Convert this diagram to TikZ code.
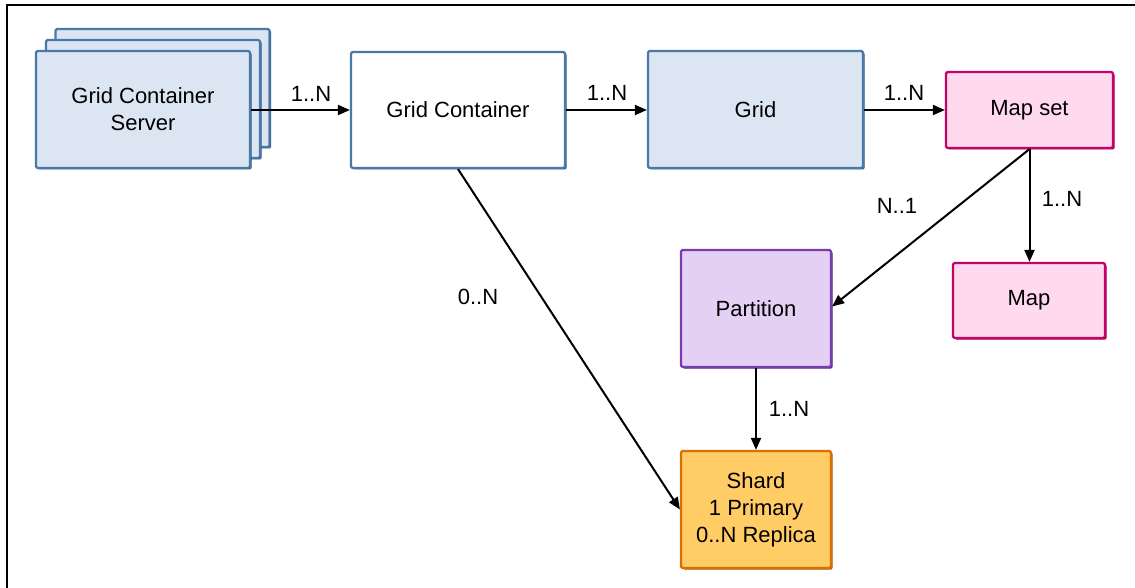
\documentclass[tikz,border=0pt]{standalone}
\usepackage{fontspec}
\setmainfont{Liberation Sans}
\usetikzlibrary{arrows.meta,shadows}
\definecolor{bluefill}{HTML}{DCE6F2}
\definecolor{blueline}{HTML}{4A78A8}
\definecolor{bluedark}{HTML}{2E5780}
\definecolor{pinkfill}{HTML}{FFDAEE}
\definecolor{pinkline}{HTML}{C8006A}
\definecolor{pinkdark}{HTML}{9A0050}
\definecolor{purpfill}{HTML}{E3D0F3}
\definecolor{purpline}{HTML}{7A3AB0}
\definecolor{purpdark}{HTML}{561F80}
\definecolor{orfill}{HTML}{FFCC66}
\definecolor{orline}{HTML}{D87000}
\definecolor{ordark}{HTML}{A85500}
\tikzset{
  txt/.style={font=\fontsize{22}{27}\selectfont, align=center},
  boxbase/.style={txt, rectangle, rounded corners=1.5pt, line width=2.2pt, inner sep=2pt},
  bluebox/.style={boxbase, draw=blueline, fill=bluefill, drop shadow={shadow xshift=1.5pt, shadow yshift=-1.5pt, fill=bluedark, opacity=1}},
  whitebox/.style={boxbase, draw=blueline, fill=white, drop shadow={shadow xshift=1.5pt, shadow yshift=-1.5pt, fill=bluedark, opacity=1}},
  pinkbox/.style={boxbase, draw=pinkline, fill=pinkfill, drop shadow={shadow xshift=1.5pt, shadow yshift=-1.5pt, fill=pinkdark, opacity=1}},
  purpbox/.style={boxbase, draw=purpline, fill=purpfill, drop shadow={shadow xshift=1.5pt, shadow yshift=-1.5pt, fill=purpdark, opacity=1}},
  orbox/.style={boxbase, draw=orline, fill=orfill, drop shadow={shadow xshift=1.5pt, shadow yshift=-1.5pt, fill=ordark, opacity=1}},
  conn/.style={line width=2pt, -{Triangle[length=12pt,width=10pt]}},
  lbl/.style={txt}
}
\begin{document}
\begin{tikzpicture}[x=1pt,y=-1pt]
\useasboundingbox (0,0) rectangle (1135,588);
% frame
\coordinate (ftr) at (1135,5);
\coordinate (ftl) at (7,5);
\coordinate (fbl) at (7,588);
\draw[line width=1.5pt] (ftr) -- (ftl) -- (fbl);
% stacked server boxes
\node[bluebox, minimum width=214pt, minimum height=118pt] (gcs3) at (162.5,88) {};
\node[bluebox, minimum width=214pt, minimum height=118pt] (gcs2) at (153,99) {};
\node[bluebox, minimum width=214pt, minimum height=117pt] (gcs) at (143,109.5) {Grid Container\\Server};
\node[whitebox, minimum width=214pt, minimum height=116pt] (gc) at (458,110) {Grid Container};
\node[bluebox, minimum width=215pt, minimum height=117pt] (grid) at (755.5,109.5) {Grid};
\node[pinkbox, minimum width=167pt, minimum height=76pt] (mapset) at (1029.5,110) {Map set};
\node[pinkbox, minimum width=152pt, minimum height=75pt] (map) at (1029,300.5) {Map};
\node[purpbox, minimum width=150pt, minimum height=117pt] (part) at (756,308.5) {Partition};
\node[orbox, minimum width=150pt, minimum height=117pt] (shard) at (756,509.5) {Shard\\1 Primary\\0..N Replica};
% connectors
\draw[conn] (gcs.east |- gc.west) -- (gc.west);
\draw[conn] (gc.east) -- (grid.west |- gc.east);
\draw[conn] (grid.east |- mapset.west) -- (mapset.west);
\draw[conn] (mapset.south) -- (mapset.south |- map.north);
\draw[conn] (mapset.south) -- ([yshift=2pt]part.east);
\draw[conn] (part.south) -- (shard.north);
\draw[conn] (gc.south) -- (shard.west);
% labels
\node[lbl] (l1) at (311,94) {1..N};
\node[lbl] (l2) at (607,93) {1..N};
\node[lbl] (l3) at (904,93) {1..N};
\node[lbl] (l4) at (897,206) {N..1};
\node[lbl] (l5) at (1062,199) {1..N};
\node[lbl] (l6) at (478,297) {0..N};
\node[lbl] (l7) at (789,409) {1..N};
\end{tikzpicture}
\end{document}
